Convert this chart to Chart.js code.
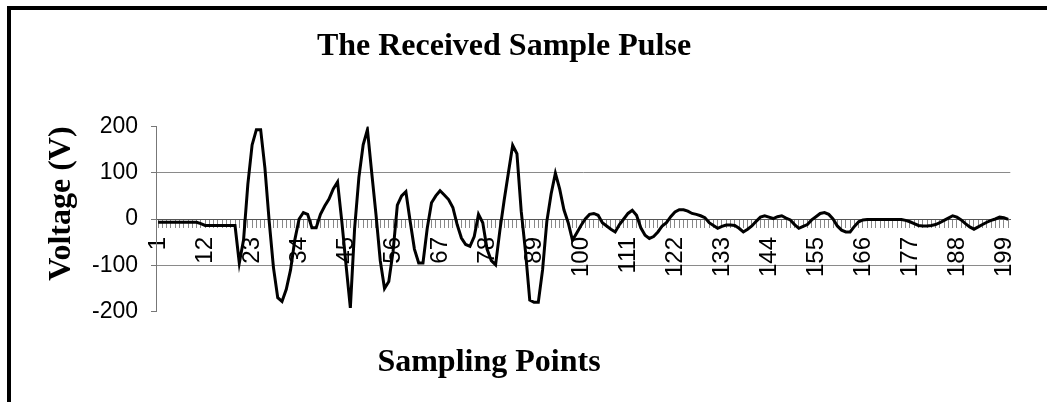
<!DOCTYPE html>
<html>
<head>
<meta charset="utf-8">
<script src="https://cdn.jsdelivr.net/npm/chart.js@4/dist/chart.umd.min.js"></script>
<style>
  html, body { margin: 0; padding: 0; background: #fff; }
  #wrap { position: relative; width: 1047px; height: 402px; overflow: hidden; }
  #frame {
    position: absolute; left: 7px; top: 6px; right: -10px; bottom: -10px;
    border-left: 4px solid #000; border-top: 4px solid #000;
    pointer-events: none;
  }
</style>
</head>
<body>
<div id="wrap">
  <canvas id="pulseChart" width="1047" height="402"></canvas>
  <div id="frame"></div>
</div>
<script>
// sampling point numbers 1..200
const samplePoints = Array.from({ length: 200 }, (_, i) => String(i + 1));

// labelled points on the category axis
const tickLabels = ["1", "12", "23", "34", "45", "56", "67", "78", "89", "100",
  "111", "122", "133", "144", "155", "166", "177", "188", "199"];

// received voltage (V)
const voltage = [
  -7, -7, -7, -7, -7, -7, -7, -7, -7, -7,
  -10, -14, -14, -14, -14, -14, -14, -14, -14, -95,
  -45, 75, 160, 193, 193, 110, -5, -105, -170, -178,
  -152, -110, -45, 0, 14, 10, -19, -19, 10, 28,
  43, 65, 80, -5, -100, -192, -20, 90, 160, 193,
  100, 10, -90, -150, -135, -70, 30, 50, 59, -5,
  -65, -95, -95, -20, 35, 50, 61, 52, 42, 25,
  -12, -41, -55, -59, -38, 10, -8, -65, -90, -99,
  -25, 40, 100, 159, 141, 17, -70, -175, -180, -180,
  -110, -5, 54, 99, 65, 20, -8, -46, -30, -14,
  0, 10, 12, 8, -8, -15, -22, -28, -12, 0,
  12, 19, 8, -19, -35, -42, -38, -28, -15, -8,
  5, 15, 20, 20, 17, 12, 10, 7, 3, -8,
  -14, -20, -16, -13, -13, -14, -20, -28, -22, -15,
  -5, 4, 7, 4, 1, 5, 7, 2, -2, -12,
  -20, -16, -12, -2, 5, 12, 14, 10, 0, -15,
  -24, -28, -28, -16, -6, -2, -1, -1, -1, -1,
  -1, -1, -1, -1, -1, -3, -6, -10, -14, -15,
  -15, -14, -12, -8, -3, 2, 7, 4, -2, -10,
  -17, -22, -17, -12, -7, -3, 0, 4, 3, -1
];

const yTicks = [-200, -100, 0, 100, 200];

const titleText = "The Received Sample Pulse";
const xTitleText = "Sampling Points";

const serifBold = { family: "'Liberation Serif', 'Times New Roman', serif", size: 32, weight: "bold" };
const sans = "'Liberation Sans', Arial, sans-serif";

// the titles in the original sit a bit left of the centre
const titleNudge = { [titleText]: -17, [xTitleText]: -32 };
const nudgeTitles = {
  id: "nudgeTitles",
  afterLayout(chart) {
    chart.boxes.forEach(b => {
      const dx = b.options && titleNudge[b.options.text];
      if (dx) { b.left += dx; b.right += dx; }
    });
  }
};

const ctx = document.getElementById("pulseChart").getContext("2d");

new Chart(ctx, {
  type: "line",
  data: {
    labels: samplePoints,
    datasets: [{
      label: "Voltage",
      data: voltage,
      borderColor: "#000",
      borderWidth: 3,
      pointRadius: 0,
      tension: 0,
      fill: false
    }]
  },
  options: {
    responsive: false,
    animation: false,
    layout: { padding: { left: 10, right: 15, top: 8, bottom: 0 } },
    plugins: {
      legend: { display: false },
      tooltip: { enabled: false },
      title: {
        display: true,
        text: titleText,
        color: "#000",
        font: serifBold,
        padding: { top: 20, bottom: 60 }
      },
      subtitle: {
        display: true,
        position: "bottom",
        text: xTitleText,
        color: "#000",
        font: serifBold,
        padding: { top: 32, bottom: 20 }
      }
    },
    scales: {
      x: {
        type: "category",
        position: { y: 0 },
        offset: true,
        afterFit: scale => { scale.height = 0; },
        border: { display: true, color: "#555", width: 1 },
        grid: { drawOnChartArea: false, drawTicks: true, tickLength: 8, color: "#888" },
        ticks: {
          autoSkip: false,
          minRotation: 90,
          maxRotation: 90,
          padding: 10,
          color: "#000",
          font: { family: sans, size: 24 },
          callback: function (val) {
            const lab = this.getLabelForValue(val);
            return tickLabels.includes(lab) ? lab : "";
          }
        }
      },
      y: {
        min: -200,
        max: 200,
        afterFit: scale => { scale.width = 146; },
        afterBuildTicks: scale => { scale.ticks = yTicks.map(v => ({ value: v })); },
        border: { display: true, color: "#777", width: 1 },
        grid: {
          color: c => (c.tick && Math.abs(c.tick.value) === 200) ? "rgba(0,0,0,0)" : "#8a8a8a",
          tickColor: "#777",
          tickLength: 5,
          lineWidth: 1
        },
        ticks: {
          padding: 13,
          color: "#000",
          font: { family: sans, size: 23 }
        },
        title: {
          display: true,
          text: "Voltage (V)",
          align: "end",
          color: "#000",
          font: serifBold,
          padding: { top: 33, bottom: 0 }
        }
      }
    }
  },
  plugins: [nudgeTitles]
});
</script>
</body>
</html>
